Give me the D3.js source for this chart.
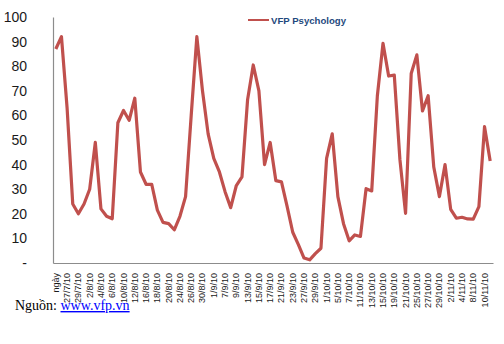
<!DOCTYPE html>
<html>
<head>
<meta charset="utf-8">
<script src="https://cdn.jsdelivr.net/npm/d3@7"></script>
<style>
  html, body { margin: 0; padding: 0; background: #fff; }
  svg { display: block; }
</style>
</head>
<body>
<svg id="chart" width="504" height="344"></svg>
<script>
// Trading-day categories (first one is the column header of the source sheet)
const categories = [
  "ngày", "26/7/10", "27/7/10", "28/7/10", "29/7/10", "30/7/10",
  "2/8/10", "3/8/10", "4/8/10", "5/8/10", "6/8/10", "9/8/10", "10/8/10",
  "11/8/10", "12/8/10", "13/8/10", "16/8/10", "17/8/10", "18/8/10", "19/8/10",
  "20/8/10", "23/8/10", "24/8/10", "25/8/10", "26/8/10", "27/8/10", "30/8/10",
  "31/8/10", "1/9/10", "6/9/10", "7/9/10", "8/9/10", "9/9/10", "10/9/10",
  "13/9/10", "14/9/10", "15/9/10", "16/9/10", "17/9/10", "20/9/10", "21/9/10",
  "22/9/10", "23/9/10", "24/9/10", "27/9/10", "28/9/10", "29/9/10", "30/9/10",
  "1/10/10", "4/10/10", "5/10/10", "6/10/10", "7/10/10", "8/10/10", "11/10/10",
  "12/10/10", "13/10/10", "14/10/10", "15/10/10", "18/10/10", "19/10/10",
  "20/10/10", "21/10/10", "22/10/10", "25/10/10", "26/10/10", "27/10/10",
  "28/10/10", "29/10/10", "1/11/10", "2/11/10", "3/11/10", "4/11/10",
  "5/11/10", "8/11/10", "9/11/10", "10/11/10", "11/11/10"
];

// VFP Psychology index per day
const psychology = [
  87, 92, 63, 24, 20, 24, 30, 49, 22, 19, 18, 57, 62, 58, 67, 37,
  32, 32, 21.5, 16.5, 16, 13.5, 19, 27, 60, 92, 70, 52.5, 42.5, 37, 29,
  22.5, 31.5, 35, 66.5, 80.5, 70, 40, 49, 33.5, 33, 23, 12.5, 7.5, 2, 1.3,
  3.8, 6, 42.5, 52.5, 27, 16, 9, 11.4, 10.8, 30.2, 29.3, 68, 89.3, 76, 76.4,
  42, 20.2, 77, 84.6, 61.8, 68, 39, 27, 40, 21.8, 18.2, 18.6, 17.9, 17.8,
  22.9, 55.4, 41.5
];

const yTicks = [0, 10, 20, 30, 40, 50, 60, 70, 80, 90, 100];
const seriesName = "VFP Psychology";
const sourceLabel = "Nguồn: ";
const sourceLink = "www.vfp.vn";

const svg = d3.select("#chart");
const plot = { left: 53, right: 493, top: 17, bottom: 263 };

const x = d3.scaleBand().domain(categories).range([plot.left, plot.right]).padding(0);
const y = d3.scaleLinear().domain([0, 100]).range([plot.bottom, plot.top]);

// Y axis
const yAxis = svg.append("g")
  .attr("transform", `translate(${plot.left},0)`)
  .call(d3.axisLeft(y).tickValues(yTicks).tickSize(0).tickPadding(26)
    .tickFormat(d => d === 0 ? "-" : d));
yAxis.select(".domain").attr("stroke", "#8c8c8c").attr("stroke-width", 1.2);
yAxis.selectAll("text")
  .attr("font-family", "Liberation Sans, Arial, sans-serif")
  .attr("font-size", 14)
  .attr("fill", "#1a1a1a");

// X axis, label on every other category
const xAxis = svg.append("g")
  .attr("transform", `translate(0,${plot.bottom})`)
  .call(d3.axisBottom(x)
    .tickValues(categories.filter((d, i) => i % 2 === 0))
    .tickSize(0).tickPadding(0));
xAxis.select(".domain").attr("stroke", "#8c8c8c").attr("stroke-width", 1.2);
xAxis.selectAll("text")
  .attr("font-family", "Liberation Sans, Arial, sans-serif")
  .attr("font-size", 9)
  .attr("fill", "#1a1a1a")
  .attr("text-anchor", "end")
  .attr("dy", null)
  .attr("y", 0)
  .attr("transform", "translate(3,10) rotate(-90)");

// Series line
const line = d3.line()
  .x((d, i) => x(categories[i]) + x.bandwidth() / 2)
  .y(d => y(d));

svg.append("path")
  .datum(psychology)
  .attr("d", line)
  .attr("fill", "none")
  .attr("stroke", "#c0504d")
  .attr("stroke-width", 3.2)
  .attr("stroke-linejoin", "round");

// Legend
const legend = svg.append("g").attr("transform", "translate(248,20)");
legend.append("line")
  .attr("x1", 0).attr("x2", 21).attr("y1", 0).attr("y2", 0)
  .attr("stroke", "#c0504d").attr("stroke-width", 2);
legend.append("text")
  .attr("x", 23).attr("y", 3.5)
  .attr("font-family", "Liberation Sans, Arial, sans-serif")
  .attr("font-size", 9.6)
  .attr("font-weight", "bold")
  .attr("fill", "#1f497d")
  .text(seriesName);

// Source note
const src = svg.append("text")
  .attr("x", 15).attr("y", 310)
  .attr("font-family", "Liberation Serif, Times New Roman, serif")
  .attr("font-size", 14)
  .attr("fill", "#000");
src.append("tspan").text(sourceLabel);
src.append("tspan").attr("fill", "#0000ff").attr("text-decoration", "underline").text(sourceLink);
</script>
</body>
</html>
